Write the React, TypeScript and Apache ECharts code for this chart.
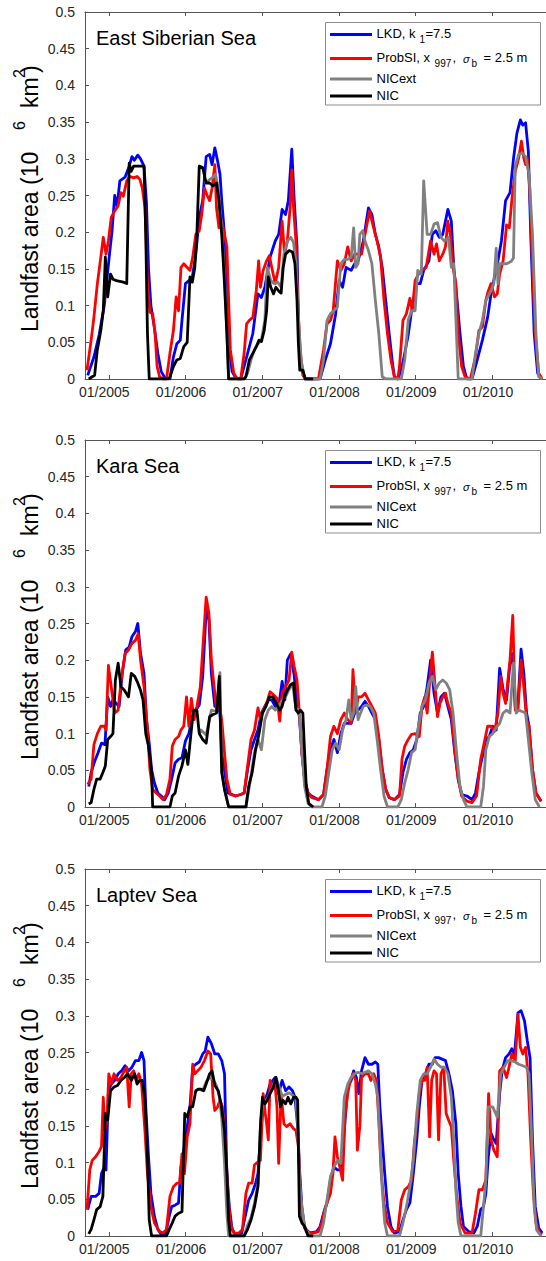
import React, { useEffect, useRef } from "react";
import * as echarts from "echarts";

type P = [number, number];

// ---------------- DATA (decimal year, 10^6 km^2) ----------------
const yearTicks = [2005, 2006, 2007, 2008, 2009, 2010];
const panelTitles = ["East Siberian Sea", "Kara Sea", "Laptev Sea"];
const seriesNames = ["LKD, k1=7.5", "ProbSI, x997, σb = 2.5 m", "NICext", "NIC"];
const seriesColors = ["#0000ff", "#ff0000", "#808080", "#000000"];

const essLKD: P[] = [[2004.725,0.005],[2004.806,0.03],[2004.874,0.06],[2004.941,0.10],[2005.009,0.17],[2005.041,0.20],[2005.077,0.25],[2005.108,0.235],[2005.144,0.27],[2005.212,0.275],[2005.266,0.29],[2005.302,0.303],[2005.333,0.298],[2005.378,0.305],[2005.414,0.30],[2005.459,0.29],[2005.491,0.24],[2005.518,0.15],[2005.549,0.10],[2005.594,0.07],[2005.639,0.035],[2005.684,0.01],[2005.729,0.002],[2005.797,0],
[2005.842,0.03],[2005.887,0.048],[2005.932,0.053],[2005.954,0.08],[2005.999,0.13],[2006.044,0.134],[2006.089,0.139],[2006.134,0.17],[2006.179,0.22],[2006.224,0.243],[2006.269,0.303],[2006.314,0.306],[2006.346,0.292],[2006.382,0.315],[2006.418,0.297],[2006.449,0.279],[2006.472,0.243],[2006.508,0.197],[2006.539,0.107],[2006.571,0.04],[2006.607,0.01],[2006.652,0.002],[2006.719,0],
[2006.809,0.035],[2006.877,0.062],[2006.944,0.116],[2006.989,0.111],[2007.034,0.125],[2007.102,0.166],[2007.169,0.188],[2007.214,0.197],[2007.259,0.231],[2007.304,0.224],[2007.340,0.243],[2007.385,0.313],[2007.417,0.243],[2007.453,0.18],[2007.475,0.06],[2007.507,0.017],[2007.552,0],
[2007.754,0],[2007.822,0.026],[2007.889,0.048],[2007.957,0.089],[2008.002,0.134],[2008.047,0.125],[2008.092,0.152],[2008.159,0.148],[2008.204,0.157],[2008.249,0.161],[2008.317,0.188],[2008.384,0.233],[2008.429,0.224],[2008.474,0.197],[2008.519,0.18],[2008.564,0.152],[2008.609,0.107],[2008.654,0.062],[2008.699,0.02],[2008.722,0.003],[2008.767,0],
[2008.812,0.012],[2008.857,0.035],[2008.902,0.06],[2008.946,0.093],[2009.014,0.13],[2009.059,0.13],[2009.104,0.148],[2009.172,0.161],[2009.217,0.197],[2009.262,0.202],[2009.307,0.193],[2009.352,0.197],[2009.419,0.231],[2009.464,0.215],[2009.496,0.152],[2009.532,0.116],[2009.577,0.062],[2009.622,0.017],[2009.667,0],
[2009.734,0],[2009.802,0.026],[2009.869,0.053],[2009.937,0.084],[2009.982,0.116],[2010.027,0.139],[2010.072,0.161],[2010.117,0.188],[2010.171,0.243],[2010.229,0.254],[2010.274,0.30],[2010.319,0.335],[2010.364,0.353],[2010.396,0.346],[2010.432,0.349],[2010.468,0.31],[2010.499,0.197],[2010.544,0.062],[2010.589,0.008],[2010.634,0]];

const essProb: P[] = [[2004.716,0.012],[2004.770,0.053],[2004.806,0.084],[2004.851,0.13],[2004.896,0.166],[2004.928,0.193],[2004.964,0.17],[2004.995,0.188],[2005.032,0.22],[2005.077,0.229],[2005.122,0.236],[2005.158,0.254],[2005.189,0.249],[2005.234,0.27],[2005.279,0.276],[2005.324,0.274],[2005.369,0.276],[2005.405,0.272],[2005.437,0.26],[2005.473,0.233],[2005.504,0.13],[2005.536,0.091],[2005.572,0.089],[2005.603,0.062],[2005.630,0.017],[2005.662,0.003],[2005.707,0],
[2005.752,0],[2005.797,0.035],[2005.842,0.066],[2005.878,0.112],[2005.909,0.093],[2005.941,0.152],[2005.977,0.157],[2006.022,0.152],[2006.058,0.148],[2006.094,0.166],[2006.134,0.197],[2006.179,0.202],[2006.211,0.224],[2006.247,0.26],[2006.278,0.251],[2006.314,0.243],[2006.346,0.26],[2006.382,0.292],[2006.404,0.233],[2006.436,0.206],[2006.472,0.215],[2006.508,0.197],[2006.539,0.18],[2006.562,0.107],[2006.584,0.04],[2006.629,0.008],[2006.674,0],
[2006.719,0],[2006.764,0.035],[2006.796,0.075],[2006.832,0.08],[2006.877,0.084],[2006.922,0.12],[2006.953,0.161],[2006.976,0.125],[2007.012,0.148],[2007.057,0.161],[2007.093,0.168],[2007.124,0.152],[2007.169,0.13],[2007.214,0.152],[2007.259,0.215],[2007.291,0.17],[2007.327,0.188],[2007.363,0.233],[2007.385,0.285],[2007.408,0.233],[2007.439,0.188],[2007.462,0.107],[2007.493,0.04],[2007.529,0.005],[2007.574,0],
[2007.732,0],[2007.799,0.04],[2007.844,0.075],[2007.889,0.08],[2007.925,0.093],[2007.979,0.161],[2008.024,0.148],[2008.069,0.157],[2008.114,0.18],[2008.159,0.161],[2008.204,0.17],[2008.249,0.17],[2008.294,0.17],[2008.339,0.197],[2008.398,0.229],[2008.452,0.206],[2008.497,0.188],[2008.542,0.166],[2008.587,0.107],[2008.632,0.062],[2008.677,0.026],[2008.722,0.003],[2008.767,0],
[2008.789,0.017],[2008.834,0.08],[2008.879,0.089],[2008.924,0.11],[2008.955,0.093],[2008.992,0.134],[2009.036,0.143],[2009.082,0.148],[2009.136,0.152],[2009.194,0.188],[2009.239,0.17],[2009.271,0.184],[2009.307,0.161],[2009.352,0.17],[2009.388,0.18],[2009.419,0.215],[2009.451,0.197],[2009.487,0.152],[2009.523,0.13],[2009.554,0.062],[2009.599,0.017],[2009.644,0.003],[2009.712,0],
[2009.779,0.03],[2009.824,0.066],[2009.869,0.071],[2009.914,0.107],[2009.946,0.12],[2009.982,0.13],[2010.027,0.112],[2010.063,0.116],[2010.094,0.143],[2010.139,0.161],[2010.184,0.21],[2010.220,0.206],[2010.252,0.243],[2010.297,0.283],[2010.342,0.301],[2010.378,0.324],[2010.409,0.301],[2010.432,0.292],[2010.454,0.301],[2010.486,0.26],[2010.522,0.152],[2010.558,0.062],[2010.603,0.008],[2010.648,0]];

const essNICext: P[] = [[2006.247,0.267],[2006.292,0.27],[2006.346,0.274],[2006.391,0.279],[2006.427,0.26],[2006.472,0.206],[2006.508,0.139],[2006.539,0.062],[2006.562,0],[2006.764,0],
[2006.809,0.008],[2006.854,0.026],[2006.899,0.04],[2006.944,0.048],[2006.989,0.053],[2007.034,0.08],[2007.066,0.152],[2007.111,0.134],[2007.156,0.13],[2007.201,0.132],[2007.246,0.125],[2007.282,0.17],[2007.327,0.188],[2007.372,0.193],[2007.408,0.186],[2007.439,0.157],[2007.471,0.084],[2007.507,0.026],[2007.552,0],[2007.754,0],
[2007.799,0.026],[2007.844,0.08],[2007.889,0.089],[2007.934,0.093],[2007.979,0.098],[2008.024,0.157],[2008.069,0.163],[2008.114,0.163],[2008.159,0.166],[2008.191,0.206],[2008.218,0.152],[2008.249,0.157],[2008.272,0.197],[2008.308,0.202],[2008.339,0.188],[2008.384,0.175],[2008.429,0.157],[2008.474,0.107],[2008.519,0.062],[2008.564,0.003],[2008.609,0],[2008.812,0],
[2008.857,0.026],[2008.902,0.08],[2008.946,0.093],[2008.992,0.093],[2009.027,0.148],[2009.073,0.143],[2009.104,0.27],[2009.149,0.197],[2009.194,0.197],[2009.239,0.211],[2009.284,0.213],[2009.329,0.193],[2009.374,0.188],[2009.428,0.193],[2009.464,0.152],[2009.496,0.157],[2009.523,0.084],[2009.554,0],[2009.734,0],
[2009.779,0.035],[2009.824,0.062],[2009.869,0.08],[2009.914,0.107],[2009.982,0.12],[2010.018,0.13],[2010.049,0.178],[2010.072,0.13],[2010.094,0.157],[2010.139,0.157],[2010.184,0.157],[2010.243,0.16],[2010.274,0.165],[2010.297,0.29],[2010.342,0.306],[2010.387,0.308],[2010.432,0.303],[2010.477,0.279],[2010.522,0.197],[2010.567,0.062],[2010.603,0.003],[2010.648,0]];

const essNIC: P[] = [[2004.739,0],[2004.784,0.003],[2004.815,0.005],[2004.851,0.04],[2004.896,0.066],[2004.928,0.093],[2004.955,0.166],[2004.986,0.112],[2005.023,0.143],[2005.054,0.136],[2005.099,0.134],[2005.144,0.133],[2005.189,0.132],[2005.234,0.13],[2005.266,0.294],[2005.293,0.283],[2005.324,0.29],[2005.369,0.29],[2005.414,0.29],[2005.459,0.29],[2005.482,0.197],[2005.504,0.062],[2005.527,0],[2005.774,0],
[2005.797,0.003],[2005.842,0.017],[2005.887,0.026],[2005.932,0.028],[2005.977,0.044],[2006.022,0.05],[2006.058,0.139],[2006.089,0.132],[2006.121,0.152],[2006.148,0.197],[2006.179,0.29],[2006.224,0.288],[2006.269,0.267],[2006.314,0.267],[2006.359,0.263],[2006.404,0.267],[2006.436,0.243],[2006.472,0.197],[2006.508,0.13],[2006.539,0.062],[2006.562,0],[2006.764,0],
[2006.787,0.003],[2006.832,0.026],[2006.877,0.035],[2006.922,0.044],[2006.958,0.053],[2006.989,0.051],[2007.025,0.066],[2007.057,0.093],[2007.079,0.139],[2007.111,0.125],[2007.147,0.116],[2007.178,0.125],[2007.214,0.12],[2007.246,0.117],[2007.273,0.152],[2007.304,0.17],[2007.349,0.175],[2007.394,0.173],[2007.426,0.157],[2007.453,0.107],[2007.471,0.048],[2007.489,0.012],[2007.529,0.012],[2007.561,0],[2007.664,0]];

const karaLKD: P[] = [[2004.739,0.028],[2004.770,0.047],[2004.815,0.062],[2004.860,0.074],[2004.905,0.087],[2004.950,0.085],[2004.986,0.15],[2005.023,0.137],[2005.054,0.146],[2005.099,0.141],[2005.135,0.137],[2005.176,0.182],[2005.221,0.214],[2005.266,0.218],[2005.302,0.232],[2005.347,0.239],[2005.378,0.25],[2005.414,0.209],[2005.459,0.182],[2005.491,0.119],[2005.527,0.087],[2005.558,0.051],[2005.594,0.033],[2005.639,0.019],[2005.684,0.015],[2005.729,0.01],[2005.774,0.019],[2005.819,0.038],[2005.864,0.06],[2005.909,0.065],[2005.954,0.067],[2005.999,0.09],[2006.044,0.1],[2006.089,0.123],[2006.134,0.132],[2006.179,0.139],[2006.224,0.178],[2006.269,0.268],[2006.305,0.255],[2006.337,0.182],[2006.382,0.137],[2006.418,0.141],[2006.449,0.128],[2006.472,0.074],[2006.508,0.047],[2006.553,0.019],[2006.607,0.017],[2006.652,0.015],[2006.719,0.017],[2006.764,0.019],[2006.809,0.051],[2006.854,0.078],[2006.899,0.092],[2006.944,0.105],[2006.989,0.128],[2007.034,0.137],[2007.079,0.146],[2007.124,0.146],[2007.169,0.137],[2007.214,0.137],[2007.259,0.171],[2007.295,0.146],[2007.327,0.2],[2007.372,0.209],[2007.417,0.178],[2007.453,0.141],[2007.484,0.123],[2007.516,0.074],[2007.552,0.038],[2007.597,0.019],[2007.642,0.015],[2007.732,0.01],[2007.799,0.017],[2007.844,0.051],[2007.889,0.078],[2007.934,0.092],[2007.979,0.074],[2008.024,0.1],[2008.069,0.114],[2008.114,0.114],[2008.159,0.114],[2008.204,0.128],[2008.249,0.132],[2008.294,0.137],[2008.339,0.144],[2008.384,0.137],[2008.429,0.128],[2008.474,0.119],[2008.519,0.092],[2008.564,0.051],[2008.609,0.024],[2008.654,0.013],[2008.722,0.01],[2008.789,0.017],[2008.834,0.047],[2008.879,0.065],[2008.924,0.074],[2008.969,0.078],[2009.014,0.092],[2009.059,0.128],[2009.104,0.137],[2009.149,0.164],[2009.194,0.2],[2009.239,0.155],[2009.284,0.128],[2009.329,0.15],[2009.374,0.155],[2009.419,0.137],[2009.464,0.119],[2009.509,0.074],[2009.554,0.038],[2009.599,0.017],[2009.667,0.015],[2009.734,0.01],[2009.779,0.019],[2009.824,0.047],[2009.869,0.069],[2009.914,0.092],[2009.959,0.096],[2010.004,0.11],[2010.049,0.105],[2010.094,0.189],[2010.139,0.16],[2010.184,0.146],[2010.229,0.196],[2010.261,0.209],[2010.297,0.137],[2010.333,0.141],[2010.373,0.215],[2010.409,0.182],[2010.445,0.128],[2010.477,0.11],[2010.522,0.051],[2010.567,0.019],[2010.634,0.008]];

const karaProb: P[] = [[2004.725,0.031],[2004.770,0.038],[2004.806,0.085],[2004.851,0.1],[2004.896,0.11],[2004.941,0.11],[2004.964,0.105],[2004.995,0.193],[2005.032,0.164],[2005.077,0.128],[2005.122,0.132],[2005.167,0.178],[2005.212,0.209],[2005.257,0.214],[2005.302,0.223],[2005.347,0.227],[2005.383,0.236],[2005.414,0.2],[2005.459,0.164],[2005.504,0.105],[2005.536,0.051],[2005.572,0.024],[2005.617,0.019],[2005.662,0.015],[2005.707,0.01],[2005.752,0.017],[2005.797,0.038],[2005.828,0.083],[2005.864,0.092],[2005.909,0.096],[2005.941,0.105],[2005.977,0.11],[2006.013,0.15],[2006.044,0.11],[2006.076,0.148],[2006.112,0.119],[2006.148,0.137],[2006.193,0.164],[2006.238,0.236],[2006.269,0.286],[2006.305,0.264],[2006.337,0.2],[2006.373,0.164],[2006.404,0.132],[2006.436,0.141],[2006.472,0.119],[2006.508,0.074],[2006.539,0.038],[2006.584,0.017],[2006.652,0.015],[2006.719,0.017],[2006.764,0.019],[2006.809,0.056],[2006.854,0.092],[2006.899,0.105],[2006.944,0.135],[2006.976,0.119],[2007.012,0.132],[2007.057,0.141],[2007.102,0.157],[2007.147,0.153],[2007.192,0.148],[2007.228,0.117],[2007.259,0.155],[2007.304,0.164],[2007.349,0.173],[2007.385,0.211],[2007.417,0.191],[2007.453,0.173],[2007.484,0.128],[2007.516,0.074],[2007.552,0.038],[2007.597,0.019],[2007.642,0.013],[2007.732,0.01],[2007.799,0.017],[2007.844,0.051],[2007.889,0.096],[2007.934,0.11],[2007.979,0.1],[2008.024,0.119],[2008.069,0.128],[2008.114,0.119],[2008.159,0.114],[2008.182,0.187],[2008.218,0.128],[2008.249,0.15],[2008.294,0.15],[2008.339,0.155],[2008.384,0.146],[2008.429,0.137],[2008.474,0.128],[2008.519,0.096],[2008.564,0.051],[2008.609,0.024],[2008.654,0.013],[2008.722,0.01],[2008.789,0.015],[2008.821,0.065],[2008.857,0.083],[2008.902,0.092],[2008.946,0.099],[2008.992,0.1],[2009.046,0.096],[2009.082,0.137],[2009.118,0.15],[2009.149,0.128],[2009.181,0.169],[2009.217,0.211],[2009.253,0.164],[2009.284,0.123],[2009.316,0.141],[2009.352,0.15],[2009.388,0.155],[2009.419,0.141],[2009.464,0.128],[2009.509,0.078],[2009.554,0.038],[2009.599,0.015],[2009.667,0.008],[2009.734,0.006],[2009.793,0.015],[2009.847,0.065],[2009.892,0.087],[2009.937,0.11],[2009.982,0.11],[2010.027,0.103],[2010.072,0.128],[2010.108,0.178],[2010.139,0.155],[2010.171,0.141],[2010.198,0.169],[2010.229,0.2],[2010.265,0.261],[2010.297,0.132],[2010.333,0.132],[2010.373,0.2],[2010.409,0.164],[2010.445,0.119],[2010.477,0.11],[2010.522,0.051],[2010.567,0.019],[2010.634,0.008]];

const karaNICext: P[] = [[2006.179,0.1],[2006.202,0.105],[2006.269,0.098],[2006.337,0.132],[2006.404,0.13],[2006.449,0.183],[2006.472,0.05],[2006.508,0.024],[2006.562,0],[2006.787,0],
[2006.832,0.028],[2006.899,0.074],[2006.944,0.092],[2006.989,0.078],[2007.034,0.119],[2007.079,0.132],[2007.124,0.137],[2007.169,0.132],[2007.214,0.137],[2007.259,0.145],[2007.304,0.15],[2007.349,0.16],[2007.394,0.168],[2007.439,0.135],[2007.484,0.132],[2007.507,0.09],[2007.552,0.028],[2007.597,0.005],[2007.642,0],[2007.777,0],
[2007.822,0.015],[2007.867,0.047],[2007.912,0.078],[2007.957,0.087],[2008.002,0.078],[2008.047,0.105],[2008.092,0.119],[2008.128,0.146],[2008.159,0.119],[2008.191,0.128],[2008.218,0.164],[2008.249,0.119],[2008.281,0.128],[2008.317,0.137],[2008.362,0.139],[2008.407,0.137],[2008.452,0.128],[2008.497,0.092],[2008.542,0.051],[2008.587,0.015],[2008.632,0],[2008.767,0],
[2008.812,0.01],[2008.857,0.033],[2008.902,0.051],[2008.946,0.074],[2008.992,0.078],[2009.036,0.11],[2009.082,0.137],[2009.127,0.146],[2009.172,0.169],[2009.217,0.178],[2009.262,0.16],[2009.307,0.169],[2009.352,0.173],[2009.397,0.169],[2009.442,0.16],[2009.487,0.128],[2009.532,0.074],[2009.577,0.028],[2009.622,0.01],[2009.667,0],[2009.847,0],
[2009.883,0.028],[2009.914,0.078],[2009.959,0.096],[2010.004,0.1],[2010.049,0.108],[2010.094,0.114],[2010.139,0.128],[2010.184,0.132],[2010.229,0.128],[2010.274,0.196],[2010.310,0.128],[2010.342,0.132],[2010.387,0.13],[2010.432,0.128],[2010.468,0.092],[2010.513,0.047],[2010.558,0.01],[2010.612,0]];

const karaNIC: P[] = [[2004.739,0.004],[2004.770,0.006],[2004.806,0.024],[2004.842,0.038],[2004.887,0.038],[2004.923,0.047],[2004.955,0.056],[2004.986,0.092],[2005.023,0.096],[2005.054,0.1],[2005.086,0.173],[2005.122,0.196],[2005.158,0.164],[2005.203,0.159],[2005.257,0.15],[2005.293,0.182],[2005.338,0.178],[2005.378,0.169],[2005.414,0.159],[2005.446,0.146],[2005.482,0.1],[2005.518,0.083],[2005.558,0.047],[2005.572,0],[2005.797,0],[2005.828,0.015],[2005.864,0.019],[2005.909,0.042],[2005.954,0.056],[2005.999,0.078],[2006.031,0.058],[2006.067,0.096],[2006.103,0.132],[2006.148,0.132],[2006.179,0.1],[2006.224,0.092],[2006.269,0.087],[2006.314,0.123],[2006.359,0.126],[2006.404,0.128],[2006.440,0.178],[2006.472,0.047],[2006.508,0.024],[2006.562,0],[2006.787,0],[2006.823,0.028],[2006.868,0.047],[2006.913,0.078],[2006.958,0.1],[2007.003,0.128],[2007.048,0.137],[2007.093,0.15],[2007.138,0.15],[2007.183,0.141],[2007.228,0.132],[2007.259,0.137],[2007.291,0.15],[2007.327,0.159],[2007.363,0.166],[2007.408,0.169],[2007.439,0.132],[2007.471,0.128],[2007.498,0.132],[2007.529,0.128],[2007.552,0.074],[2007.574,0.028],[2007.606,0.005],[2007.664,0]];

const lapLKD: P[] = [[2004.725,0.036],[2004.770,0.054],[2004.829,0.054],[2004.874,0.058],[2004.905,0.085],[2004.941,0.094],[2004.964,0.09],[2004.995,0.198],[2005.032,0.207],[2005.077,0.212],[2005.122,0.221],[2005.167,0.225],[2005.212,0.232],[2005.257,0.225],[2005.302,0.23],[2005.347,0.239],[2005.392,0.239],[2005.428,0.25],[2005.459,0.239],[2005.482,0.176],[2005.518,0.108],[2005.549,0.058],[2005.594,0.027],[2005.639,0.009],[2005.684,0.002],[2005.743,0.004],[2005.788,0.027],[2005.819,0.04],[2005.864,0.042],[2005.909,0.045],[2005.941,0.094],[2005.977,0.117],[2006.022,0.149],[2006.058,0.176],[2006.094,0.23],[2006.134,0.234],[2006.179,0.237],[2006.224,0.248],[2006.256,0.252],[2006.292,0.271],[2006.337,0.262],[2006.382,0.248],[2006.427,0.248],[2006.472,0.239],[2006.508,0.221],[2006.539,0.085],[2006.571,0.04],[2006.607,0.009],[2006.652,0.002],[2006.733,0.004],[2006.778,0.027],[2006.823,0.049],[2006.868,0.058],[2006.913,0.072],[2006.944,0.085],[2006.976,0.131],[2007.003,0.167],[2007.034,0.185],[2007.066,0.194],[2007.102,0.207],[2007.138,0.212],[2007.169,0.216],[2007.214,0.194],[2007.259,0.212],[2007.304,0.198],[2007.349,0.203],[2007.394,0.198],[2007.426,0.189],[2007.462,0.149],[2007.489,0.085],[2007.516,0.04],[2007.552,0.011],[2007.619,0.004],[2007.709,0.006],[2007.754,0.013],[2007.799,0.031],[2007.844,0.045],[2007.889,0.076],[2007.934,0.094],[2007.979,0.09],[2008.024,0.09],[2008.069,0.144],[2008.114,0.203],[2008.159,0.212],[2008.191,0.225],[2008.227,0.216],[2008.258,0.194],[2008.294,0.225],[2008.339,0.243],[2008.384,0.234],[2008.429,0.234],[2008.474,0.237],[2008.506,0.234],[2008.533,0.176],[2008.564,0.131],[2008.596,0.085],[2008.632,0.04],[2008.677,0.013],[2008.722,0.004],[2008.789,0.006],[2008.834,0.022],[2008.879,0.036],[2008.924,0.045],[2008.969,0.085],[2009.014,0.131],[2009.046,0.176],[2009.082,0.212],[2009.127,0.221],[2009.172,0.234],[2009.217,0.234],[2009.253,0.243],[2009.298,0.243],[2009.343,0.241],[2009.388,0.239],[2009.433,0.221],[2009.478,0.198],[2009.523,0.153],[2009.554,0.085],[2009.590,0.04],[2009.622,0.013],[2009.689,0.006],[2009.757,0.004],[2009.802,0.013],[2009.847,0.036],[2009.883,0.04],[2009.914,0.058],[2009.946,0.108],[2009.982,0.14],[2010.018,0.131],[2010.049,0.126],[2010.094,0.194],[2010.126,0.225],[2010.171,0.243],[2010.216,0.248],[2010.252,0.255],[2010.288,0.248],[2010.333,0.304],[2010.373,0.307],[2010.418,0.293],[2010.454,0.266],[2010.490,0.243],[2010.522,0.131],[2010.558,0.04],[2010.603,0.011],[2010.648,0.004]];

const lapProb: P[] = [[2004.716,0.036],[2004.752,0.09],[2004.784,0.103],[2004.829,0.108],[2004.874,0.115],[2004.905,0.122],[2004.928,0.189],[2004.950,0.144],[2004.977,0.158],[2005.000,0.221],[2005.032,0.207],[2005.068,0.221],[2005.113,0.212],[2005.158,0.216],[2005.203,0.225],[2005.234,0.23],[2005.266,0.176],[2005.293,0.221],[2005.324,0.225],[2005.356,0.212],[2005.392,0.221],[2005.428,0.207],[2005.473,0.14],[2005.504,0.085],[2005.549,0.04],[2005.594,0.018],[2005.662,0.006],[2005.707,0.004],[2005.752,0.009],[2005.797,0.054],[2005.842,0.067],[2005.887,0.072],[2005.923,0.072],[2005.954,0.112],[2005.986,0.085],[2006.022,0.135],[2006.058,0.153],[2006.094,0.234],[2006.121,0.221],[2006.157,0.225],[2006.202,0.23],[2006.247,0.239],[2006.292,0.252],[2006.328,0.248],[2006.359,0.189],[2006.382,0.171],[2006.418,0.176],[2006.449,0.185],[2006.481,0.176],[2006.517,0.131],[2006.553,0.058],[2006.584,0.018],[2006.629,0.004],[2006.697,0.004],[2006.742,0.009],[2006.787,0.058],[2006.823,0.072],[2006.868,0.072],[2006.899,0.097],[2006.944,0.101],[2006.976,0.103],[2007.012,0.194],[2007.039,0.167],[2007.057,0.153],[2007.079,0.131],[2007.102,0.212],[2007.133,0.203],[2007.169,0.203],[2007.192,0.176],[2007.214,0.099],[2007.246,0.194],[2007.282,0.153],[2007.318,0.149],[2007.363,0.153],[2007.408,0.146],[2007.439,0.144],[2007.471,0.122],[2007.498,0.058],[2007.529,0.018],[2007.574,0.006],[2007.664,0.004],[2007.732,0.006],[2007.777,0.018],[2007.813,0.036],[2007.858,0.049],[2007.889,0.058],[2007.921,0.085],[2007.948,0.135],[2007.979,0.108],[2008.011,0.094],[2008.047,0.076],[2008.078,0.162],[2008.114,0.194],[2008.146,0.212],[2008.182,0.221],[2008.218,0.212],[2008.240,0.117],[2008.272,0.149],[2008.294,0.216],[2008.339,0.221],[2008.384,0.221],[2008.416,0.212],[2008.452,0.221],[2008.488,0.212],[2008.519,0.158],[2008.551,0.085],[2008.587,0.045],[2008.632,0.018],[2008.699,0.006],[2008.767,0.008],[2008.812,0.049],[2008.857,0.063],[2008.902,0.067],[2008.946,0.076],[2008.982,0.126],[2009.014,0.153],[2009.046,0.194],[2009.082,0.212],[2009.118,0.212],[2009.149,0.23],[2009.181,0.135],[2009.208,0.212],[2009.239,0.225],[2009.271,0.221],[2009.298,0.131],[2009.329,0.221],[2009.365,0.23],[2009.397,0.167],[2009.428,0.158],[2009.464,0.149],[2009.496,0.103],[2009.532,0.058],[2009.577,0.018],[2009.644,0.004],[2009.734,0.004],[2009.779,0.031],[2009.824,0.063],[2009.869,0.063],[2009.914,0.076],[2009.950,0.194],[2009.982,0.131],[2010.018,0.117],[2010.063,0.108],[2010.094,0.225],[2010.139,0.23],[2010.184,0.216],[2010.216,0.23],[2010.252,0.248],[2010.297,0.239],[2010.333,0.302],[2010.364,0.257],[2010.396,0.248],[2010.432,0.257],[2010.463,0.221],[2010.499,0.131],[2010.531,0.063],[2010.567,0.018],[2010.612,0.004],[2010.648,0.002]];

const lapNICext: P[] = [[2006.134,0.198],[2006.179,0.2],[2006.224,0.198],[2006.269,0.21],[2006.314,0.216],[2006.359,0.214],[2006.404,0.205],[2006.440,0.19],[2006.472,0.16],[2006.508,0.1],[2006.539,0.03],[2006.562,0],[2006.764,0],[2006.809,0.015],[2006.854,0.025],[2006.899,0.045],[2006.944,0.07],[2006.976,0.15],[2007.012,0.185],[2007.057,0.185],[2007.102,0.195],[2007.147,0.205],[2007.178,0.216],[2007.214,0.205],[2007.259,0.19],[2007.304,0.193],[2007.349,0.195],[2007.394,0.192],[2007.439,0.188],[2007.462,0.15],[2007.489,0.07],[2007.516,0.04],[2007.552,0.013],[2007.619,0],[2007.754,0],
[2007.799,0.018],[2007.844,0.049],[2007.889,0.081],[2007.934,0.094],[2007.979,0.103],[2008.024,0.099],[2008.069,0.189],[2008.114,0.207],[2008.159,0.216],[2008.204,0.221],[2008.249,0.223],[2008.294,0.221],[2008.339,0.223],[2008.384,0.225],[2008.429,0.221],[2008.474,0.207],[2008.506,0.189],[2008.533,0.131],[2008.564,0.063],[2008.596,0.018],[2008.632,0],[2008.789,0],
[2008.834,0.018],[2008.879,0.04],[2008.924,0.067],[2008.969,0.103],[2009.014,0.167],[2009.059,0.212],[2009.104,0.221],[2009.149,0.221],[2009.194,0.23],[2009.239,0.241],[2009.284,0.234],[2009.329,0.23],[2009.374,0.23],[2009.419,0.221],[2009.464,0.189],[2009.496,0.131],[2009.523,0.063],[2009.554,0.018],[2009.590,0],[2009.847,0],
[2009.883,0.04],[2009.914,0.076],[2009.946,0.176],[2010.004,0.176],[2010.063,0.162],[2010.108,0.221],[2010.153,0.23],[2010.198,0.239],[2010.243,0.239],[2010.297,0.237],[2010.342,0.234],[2010.396,0.232],[2010.441,0.23],[2010.477,0.221],[2010.513,0.131],[2010.544,0.04],[2010.576,0.008],[2010.634,0]];

const lapNIC: P[] = [[2004.739,0.003],[2004.770,0.009],[2004.806,0.022],[2004.842,0.036],[2004.887,0.04],[2004.923,0.054],[2004.955,0.167],[2004.986,0.158],[2005.023,0.198],[2005.068,0.203],[2005.113,0.205],[2005.158,0.212],[2005.203,0.216],[2005.248,0.221],[2005.293,0.212],[2005.338,0.221],[2005.369,0.207],[2005.401,0.212],[2005.437,0.212],[2005.473,0.185],[2005.504,0.108],[2005.527,0.022],[2005.558,0],[2005.752,0],[2005.788,0.009],[2005.828,0.018],[2005.864,0.027],[2005.909,0.031],[2005.954,0.033],[2005.990,0.167],[2006.022,0.162],[2006.058,0.176],[2006.094,0.176],[2006.134,0.198],[2006.166,0.2],[2006.202,0.2],[2006.238,0.198],[2006.269,0.207],[2006.314,0.221],[2006.346,0.225],[2006.382,0.205],[2006.427,0.198],[2006.463,0.18],[2006.508,0.144],[2006.539,0.085],[2006.562,0.022],[2006.584,0],[2006.764,0],[2006.809,0.009],[2006.854,0.022],[2006.899,0.04],[2006.944,0.067],[2006.980,0.158],[2007.003,0.189],[2007.034,0.18],[2007.066,0.185],[2007.102,0.194],[2007.147,0.203],[2007.178,0.216],[2007.205,0.203],[2007.237,0.176],[2007.268,0.185],[2007.304,0.18],[2007.336,0.189],[2007.372,0.18],[2007.408,0.189],[2007.439,0.189],[2007.462,0.185],[2007.484,0.027],[2007.516,0.018],[2007.552,0.013],[2007.597,0],[2007.664,0]];

const panelData: P[][][] = [
  [essLKD, essProb, essNICext, essNIC],
  [karaLKD, karaProb, karaNICext, karaNIC],
  [lapLKD, lapProb, lapNICext, lapNIC],
];

// ---------------- LAYOUT ----------------
const FONT = "'Liberation Sans', Arial, Helvetica, sans-serif";
const AXIS_COLOR = "#555555";
const TEXT_COLOR = "#262626";
const GRID_LEFT = 85;
const GRID_WIDTH = 465;
const GRID_HEIGHT = 367;
const GRID_TOPS = [12, 440, 869];
const X_MIN = 2004.69;
const X_MAX = 2010.698;

function buildOption() {
  const grid = GRID_TOPS.map((t) => ({ left: GRID_LEFT, top: t, width: GRID_WIDTH, height: GRID_HEIGHT }));
  const xAxis: any[] = [];
  const yAxis: any[] = [];
  GRID_TOPS.forEach((_, i) => {
    xAxis.push({
      type: "value", gridIndex: i, min: X_MIN, max: X_MAX, position: "bottom",
      axisLine: { show: true, onZero: false, lineStyle: { color: AXIS_COLOR, width: 1 } },
      axisTick: { show: true, inside: true, length: 4, customValues: yearTicks, lineStyle: { color: AXIS_COLOR } },
      axisLabel: {
        show: true, customValues: yearTicks, formatter: (v: number) => "01/" + Math.round(v),
        fontSize: 14, color: TEXT_COLOR, fontFamily: FONT, margin: 6, padding: [0, 9, 0, 0],
      },
      splitLine: { show: false },
    });
  });
  GRID_TOPS.forEach((_, i) => {
    xAxis.push({
      type: "value", gridIndex: i, min: X_MIN, max: X_MAX, position: "top",
      axisLine: { show: true, onZero: false, lineStyle: { color: AXIS_COLOR, width: 1 } },
      axisTick: { show: true, inside: true, length: 4, customValues: yearTicks, lineStyle: { color: AXIS_COLOR } },
      axisLabel: { show: false },
      splitLine: { show: false },
    });
    yAxis.push({
      type: "value", gridIndex: i, min: 0, max: 0.5, interval: 0.05,
      axisLine: { show: true, onZero: false, lineStyle: { color: AXIS_COLOR, width: 1 } },
      axisTick: { show: true, inside: true, length: 4, lineStyle: { color: AXIS_COLOR } },
      axisLabel: {
        fontSize: 14, color: TEXT_COLOR, fontFamily: FONT, margin: 10,
        formatter: (v: number) => String(Math.round(v * 100) / 100),
      },
      splitLine: { show: false },
    });
  });

  const series: any[] = [];
  panelData.forEach((sets, i) => {
    sets.forEach((data, j) => {
      series.push({
        type: "line", name: seriesNames[j], xAxisIndex: i, yAxisIndex: i, data,
        showSymbol: false, symbol: "none", z: 2 + j,
        lineStyle: { color: seriesColors[j], width: 2.8, join: "round" },
        itemStyle: { color: seriesColors[j] },
      });
    });
  });

  const graphic: any[] = [];
  const txt = (text: string, x: number, y: number, fontSize: number, extra: any = {}) => ({
    type: "text", x, y, z: 101,
    style: { text, fontSize, fontFamily: FONT, fill: "#000", align: "left", verticalAlign: "middle", ...extra },
  });
  GRID_TOPS.forEach((tp, i) => {
    graphic.push(txt(panelTitles[i], 96, tp + 26, 20));
    const rot = Math.PI / 2;
    const yt = (text: string, x: number, y: number, fs: number) => ({
      type: "text", x, y, rotation: rot, z: 101,
      style: { text, fontSize: fs, fontFamily: FONT, fill: "#000", align: "left", verticalAlign: "middle" },
    });
    graphic.push(yt("Landfast area (10", 30, tp + 320, 23));
    graphic.push(yt("6", 19.5, tp + 118, 16));
    graphic.push(yt("km", 30, tp + 96, 23));
    graphic.push(yt("2", 19.5, tp + 66, 16));
    graphic.push(yt(")", 30, tp + 61, 23));
    graphic.push({
      type: "rect", z: 100,
      shape: { x: 325.5, y: tp + 10.5, width: 215, height: 82.5 },
      style: { fill: "#ffffff", stroke: "#8c8c8c", lineWidth: 1 },
    });
    const rows = [22.5, 46.5, 67, 84];
    rows.forEach((ry, j) => {
      graphic.push({
        type: "line", z: 101,
        shape: { x1: 330, y1: tp + ry, x2: 372, y2: tp + ry },
        style: { stroke: seriesColors[j], lineWidth: 2.8 },
      });
    });
    const r1 = tp + rows[0] - 1;
    graphic.push(txt("LKD, k", 376.5, r1, 13));
    graphic.push(txt("1", 419.5, r1 + 6, 10));
    graphic.push(txt("=7.5", 425.5, r1, 13));
    const r2 = tp + rows[1] - 1;
    graphic.push(txt("ProbSI, x", 376.5, r2, 13));
    graphic.push(txt("997", 434.6, r2 + 5.5, 10));
    graphic.push(txt(",", 452.5, r2, 13));
    graphic.push(txt("σ", 463, r2 + 1, 11, { fontStyle: "italic" }));
    graphic.push(txt("b", 471.5, r2 + 5.5, 10));
    graphic.push(txt("= 2.5 m", 483.6, r2, 13));
    graphic.push(txt("NICext", 376.5, tp + rows[2] - 1, 13));
    graphic.push(txt("NIC", 376.5, tp + rows[3] - 1, 13));
  });

  return {
    animation: false,
    backgroundColor: "#ffffff",
    grid, xAxis, yAxis, series, graphic,
  };
}

export default function App() {
  const ref = useRef<HTMLDivElement>(null);
  useEffect(() => {
    if (!ref.current) return;
    const chart = echarts.init(ref.current, undefined, { renderer: "svg" });
    chart.setOption(buildOption() as any);
    return () => chart.dispose();
  }, []);
  return (
    <div
      ref={ref}
      style={{ position: "absolute", left: 0, top: 0, width: 546, height: 1261, background: "#fff" }}
    />
  );
}
